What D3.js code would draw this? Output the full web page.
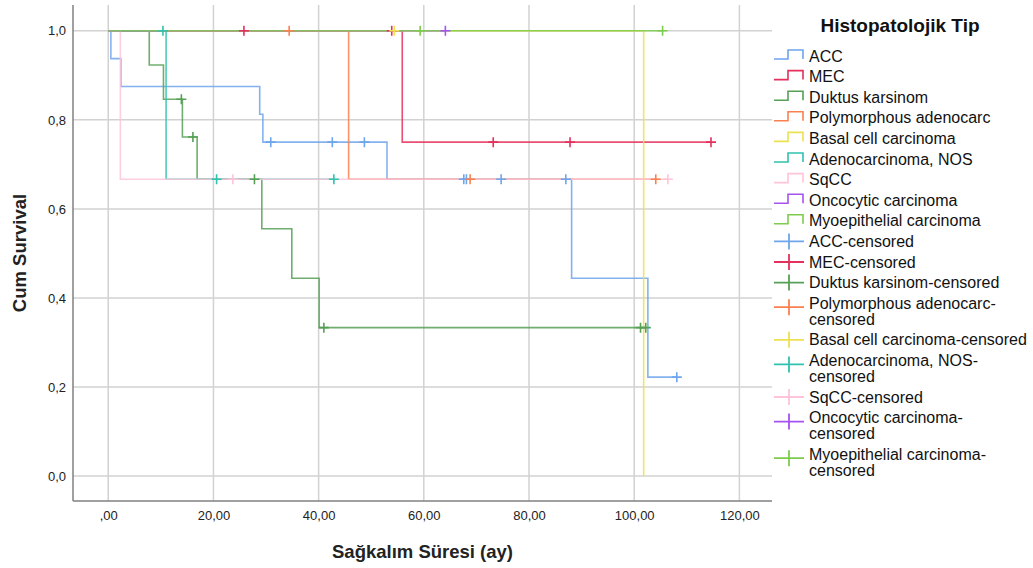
<!DOCTYPE html>
<html>
<head>
<meta charset="utf-8">
<script src="https://cdn.jsdelivr.net/npm/d3@7"></script>
<style>
  body { margin: 0; background: #fff; }
  svg { display: block; font-family: "Liberation Sans", Arial, sans-serif; }
</style>
</head>
<body>
<svg id="chart" width="1033" height="568"></svg>
<script>
// Histology groups and their colours
const groupNames = [
  "ACC", "MEC", "Duktus karsinom", "Polymorphous adenocarc", "Basal cell carcinoma",
  "Adenocarcinoma, NOS", "SqCC", "Oncocytic carcinoma", "Myoepithelial carcinoma"
];
const groupColors = [
  "#6ea5ec", "#e4305c", "#56a056", "#fa8050", "#ece150",
  "#30c2ae", "#ffc4da", "#a652f0", "#7ecc4c"
];

// Kaplan–Meier steps: time (months) of each step and survival after it
const stepTimes = [
  [0, 0.5, 2.4, 28.8, 29.4, 53.0, 88.1, 102.6],
  [0, 55.9],
  [0, 7.8, 10.5, 14.1, 16.9, 29.2, 34.9, 40.1],
  [0, 45.7],
  [0, 101.8],
  [0, 11.0],
  [0, 2.3],
  [0],
  [0]
];
const stepSurvival = [
  [1, 0.9375, 0.875, 0.8125, 0.75, 0.6667, 0.4444, 0.2222],
  [1, 0.75],
  [1, 0.9231, 0.8462, 0.7615, 0.6667, 0.5556, 0.4444, 0.3333],
  [1, 0.6667],
  [1, 0],
  [1, 0.6667],
  [1, 0.6667],
  [1],
  [1]
];
// Censored observations (months)
const censorTimes = [
  [30.9, 42.6, 48.7, 67.6, 68.1, 74.7, 87.0, 108.1],
  [25.8, 53.9, 73.2, 87.8, 114.6],
  [13.9, 16.1, 27.8, 41.0, 101.2, 102.2],
  [34.4, 68.8, 104.1],
  [54.4],
  [10.4, 20.6, 42.9],
  [23.7, 106.4],
  [64.1],
  [59.3, 105.4]
];

// Axis ticks
const xTicks = [0, 20, 40, 60, 80, 100, 120];
const yTicks = [0, 0.2, 0.4, 0.6, 0.8, 1.0];

// Legend entries
const legendTitle = "Histopatolojik Tip";
const legendLabels = [
  "ACC", "MEC", "Duktus karsinom", "Polymorphous adenocarc", "Basal cell carcinoma",
  "Adenocarcinoma, NOS", "SqCC", "Oncocytic carcinoma", "Myoepithelial carcinoma",
  "ACC-censored", "MEC-censored", "Duktus karsinom-censored",
  "Polymorphous adenocarc-\ncensored", "Basal cell carcinoma-censored",
  "Adenocarcinoma, NOS-\ncensored", "SqCC-censored",
  "Oncocytic carcinoma-\ncensored", "Myoepithelial carcinoma-\ncensored"
];

const svg = d3.select("#chart");
const plot = { left: 73, right: 772, top: 5, bottom: 501 };

const x = d3.scaleLinear().domain([-6.7, 126.2]).range([plot.left, plot.right]);
const y = d3.scaleLinear().domain([-0.056, 1.058]).range([plot.bottom, plot.top]);

const fmtX = v => v === 0 ? ",00" : d3.format(".2f")(v).replace(".", ",");
const fmtY = v => d3.format(".1f")(v).replace(".", ",");

// Grid
const grid = svg.append("g").attr("stroke", "#d2d2d2").attr("stroke-width", 1.5);
grid.selectAll("line.v").data(xTicks).join("line")
  .attr("x1", d => x(d)).attr("x2", d => x(d))
  .attr("y1", plot.top).attr("y2", plot.bottom);
grid.selectAll("line.h").data(yTicks).join("line")
  .attr("x1", plot.left).attr("x2", plot.right)
  .attr("y1", d => y(d)).attr("y2", d => y(d));

// Axes
const xAxis = svg.append("g").attr("transform", `translate(0,${plot.bottom})`)
  .call(d3.axisBottom(x).tickValues(xTicks).tickFormat(fmtX).tickSize(0).tickPadding(10));
const yAxis = svg.append("g").attr("transform", `translate(${plot.left},0)`)
  .call(d3.axisLeft(y).tickValues(yTicks).tickFormat(fmtY).tickSize(0).tickPadding(7));
[xAxis, yAxis].forEach(a => {
  a.select(".domain").attr("stroke", "#808080").attr("stroke-width", 1.5);
  a.selectAll("text").attr("font-size", 13).attr("fill", "#222")
    .attr("font-family", "\"Liberation Sans\", Arial, sans-serif");
});
yAxis.select(".domain").attr("d", `M0,${plot.top}V${plot.bottom}`);
xAxis.select(".domain").attr("d", `M${plot.left},0H${plot.right}`);

// Axis titles
svg.append("text").attr("x", (plot.left + plot.right) / 2).attr("y", 558)
  .attr("text-anchor", "middle").attr("font-size", 18.5).attr("font-weight", "bold")
  .attr("fill", "#222").text("Sağkalım Süresi (ay)");
svg.append("text")
  .attr("transform", `translate(26,${(plot.top + plot.bottom) / 2}) rotate(-90)`)
  .attr("text-anchor", "middle").attr("font-size", 18.5).attr("font-weight", "bold")
  .attr("fill", "#222").text("Cum Survival");

// Survival at time t for group g
function survAt(g, t) {
  let s = stepSurvival[g][0];
  stepTimes[g].forEach((tt, i) => { if (tt <= t) s = stepSurvival[g][i]; });
  return s;
}

// Curves
const curves = svg.append("g").attr("fill", "none").attr("stroke-width", 1.6)
  .attr("stroke-opacity", 0.85);
groupNames.forEach((name, g) => {
  const ts = stepTimes[g], ss = stepSurvival[g];
  const end = Math.max(ts[ts.length - 1], ...censorTimes[g]);
  let d = `M${x(ts[0])},${y(ss[0])}`;
  for (let i = 1; i < ts.length; i++) d += `H${x(ts[i])}V${y(ss[i])}`;
  d += `H${x(end)}`;
  curves.append("path").attr("d", d).attr("stroke", groupColors[g]);
});

// Censor marks
const marks = svg.append("g").attr("stroke-width", 1.6);
groupNames.forEach((name, g) => {
  censorTimes[g].forEach(t => {
    const cx = x(t), cy = y(survAt(g, t));
    marks.append("path")
      .attr("d", `M${cx - 5},${cy}H${cx + 5}M${cx},${cy - 5}V${cy + 5}`)
      .attr("stroke", groupColors[g]);
  });
});

// Legend
const lg = svg.append("g");
lg.append("text").attr("x", 900).attr("y", 32).attr("text-anchor", "middle")
  .attr("font-size", 19).attr("font-weight", "bold").attr("fill", "#111").text(legendTitle);

let ly = 56;
legendLabels.forEach((label, i) => {
  const g = i % groupNames.length;
  const color = groupColors[g];
  const lines = label.split("\n");
  const item = lg.append("g");
  if (i < groupNames.length) {
    item.append("path")
      .attr("d", `M774,${ly + 3}H788V${ly - 6}H803V${ly + 3}`)
      .attr("fill", "none").attr("stroke", color).attr("stroke-width", 1.6);
  } else {
    const sy = lines.length > 1 ? ly + 4 : ly;
    item.append("path")
      .attr("d", `M774,${sy}H804M789,${sy - 8}V${sy + 8}`)
      .attr("fill", "none").attr("stroke", color).attr("stroke-width", 1.8);
  }
  const txt = item.append("text").attr("x", 809).attr("y", ly + 5.5)
    .attr("font-size", 16).attr("fill", "#111");
  lines.forEach((ln, k) => {
    txt.append("tspan").attr("x", 809).attr("dy", k === 0 ? 0 : 16).text(ln);
  });
  ly += 20.6 + 16 * (lines.length - 1);
});
</script>
</body>
</html>
